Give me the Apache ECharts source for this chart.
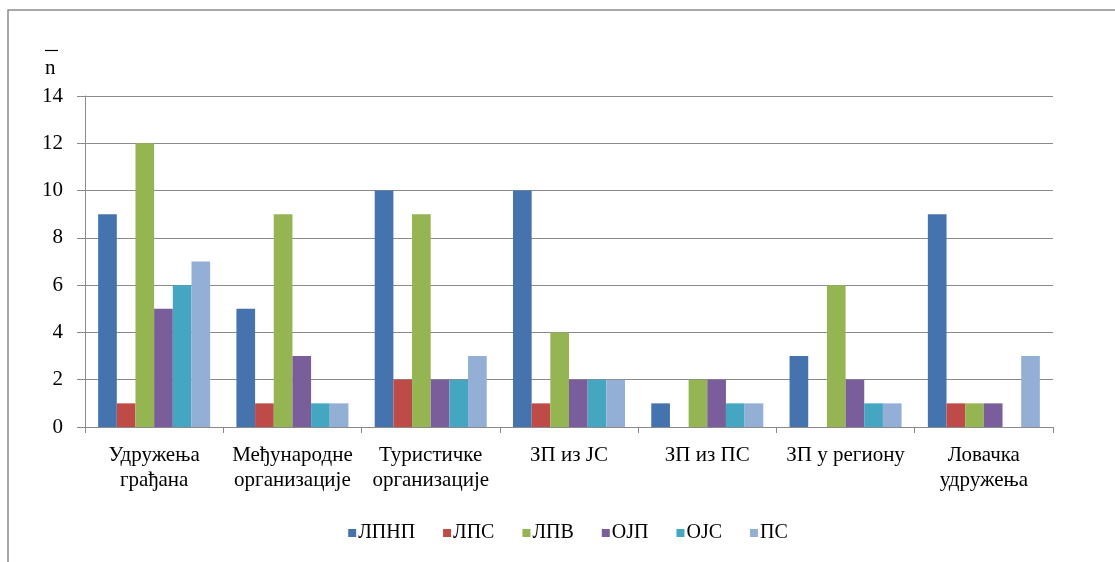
<!DOCTYPE html>
<html>
<head>
<meta charset="utf-8">
<script src="https://cdn.jsdelivr.net/npm/echarts@6/dist/echarts.min.js"></script>
<style>
  html, body { margin: 0; padding: 0; background: #fff; }
  #chart { width: 1115px; height: 562px; }
</style>
</head>
<body>
<div id="chart"></div>
<script>
// Categories (x axis)
const categories = [
  'Удружења\nграђана',
  'Међународне\nорганизације',
  'Туристичке\nорганизације',
  'ЗП из ЈС',
  'ЗП из ПС',
  'ЗП у региону',
  'Ловачка\nудружења'
];

// Y tick labels
const yTickLabels = [0, 2, 4, 6, 8, 10, 12, 14];

// Series values, one array per group
const ЛПНП = [9, 5, 10, 10, 1, 3, 9];
const ЛПС  = [1, 1, 2, 1, 0, 0, 1];
const ЛПВ  = [12, 9, 9, 4, 2, 6, 1];
const ОЈП  = [5, 3, 2, 2, 2, 2, 1];
const ОЈС  = [6, 1, 2, 2, 1, 1, 0];
const ПС   = [7, 1, 3, 2, 1, 1, 3];

const seriesNames = ['ЛПНП', 'ЛПС', 'ЛПВ', 'ОЈП', 'ОЈС', 'ПС'];
const seriesData = [ЛПНП, ЛПС, ЛПВ, ОЈП, ОЈС, ПС];
const colors = ['#4573AE', '#BE4B48', '#95B553', '#7A5E9C', '#44A6C1', '#93AFD5'];

const axisGray = '#8a8a8a';
const serifFace = 'Liberation Serif';

const chart = echarts.init(document.getElementById('chart'), null, { renderer: 'canvas' });
chart.setOption({
  animation: false,
  color: colors,
  grid: { left: 85, right: 62, top: 96, bottom: 135, containLabel: false },
  xAxis: {
    type: 'category',
    data: categories,
    axisLine: { lineStyle: { color: axisGray, width: 1 } },
    axisTick: { show: true, length: 6, lineStyle: { color: axisGray } },
    axisLabel: { show: false }
  },
  yAxis: {
    type: 'value',
    min: yTickLabels[0],
    max: yTickLabels[yTickLabels.length - 1],
    interval: 2,
    axisLine: { show: true, lineStyle: { color: axisGray, width: 1 } },
    axisTick: { show: true, length: 8, lineStyle: { color: axisGray } },
    splitLine: { lineStyle: { color: axisGray, width: 1 } },
    axisLabel: { show: false }
  },
  series: seriesNames.map((name, i) => ({
    name: name,
    type: 'bar',
    data: seriesData[i],
    barGap: '0%',
    barCategoryGap: '19%',
    itemStyle: { color: colors[i] }
  }))
});

// Serif labels placed from the chart's own axis scales
const serifText = (text, size, extra) => Object.assign({
  text: text, fontFamily: serifFace, fontSize: size, fill: '#000'
}, extra || {});

const labelGraphics = [];

categories.forEach((c, i) => {
  const px = chart.convertToPixel({ xAxisIndex: 0 }, i);
  labelGraphics.push({
    type: 'text', x: px, y: 443, silent: true,
    style: serifText(c, 21, { align: 'center', textAlign: 'center', verticalAlign: 'top', textVerticalAlign: 'top', lineHeight: 25 })
  });
});

yTickLabels.forEach(v => {
  const py = chart.convertToPixel({ yAxisIndex: 0 }, v);
  labelGraphics.push({
    type: 'text', x: 63, y: py, silent: true,
    style: serifText(String(v), 21, { align: 'right', textAlign: 'right', verticalAlign: 'middle', textVerticalAlign: 'middle' })
  });
});

// Legend row: colour squares followed by series names
const measure = document.createElement('canvas').getContext('2d');
measure.font = '20px "Liberation Serif"';
const legendItems = [];
let lx = 0;
seriesNames.forEach((n, i) => {
  legendItems.push({ type: 'rect', shape: { x: lx, y: -4, width: 8, height: 8 }, style: { fill: colors[i] } });
  legendItems.push({
    type: 'text', x: lx + 10, y: 0,
    style: serifText(n, 20, { verticalAlign: 'middle', textVerticalAlign: 'middle' })
  });
  lx += 10 + measure.measureText(n).width + (i < seriesNames.length - 1 ? 28 : 0);
});

chart.setOption({
  graphic: [
    {
      type: 'rect',
      shape: { x: 8, y: 10, width: 1200, height: 700 },
      style: { fill: 'none', stroke: '#8c8c8c', lineWidth: 1.5 },
      silent: true
    },
    {
      type: 'line',
      shape: { x1: 45, y1: 50.5, x2: 58, y2: 50.5 },
      style: { stroke: '#000', lineWidth: 1.2 }
    },
    {
      type: 'text',
      x: 45,
      y: 58,
      style: serifText('n', 21, {})
    },
    {
      type: 'group',
      x: 568 - lx / 2,
      y: 533,
      children: legendItems
    }
  ].concat(labelGraphics)
});
</script>
</body>
</html>
